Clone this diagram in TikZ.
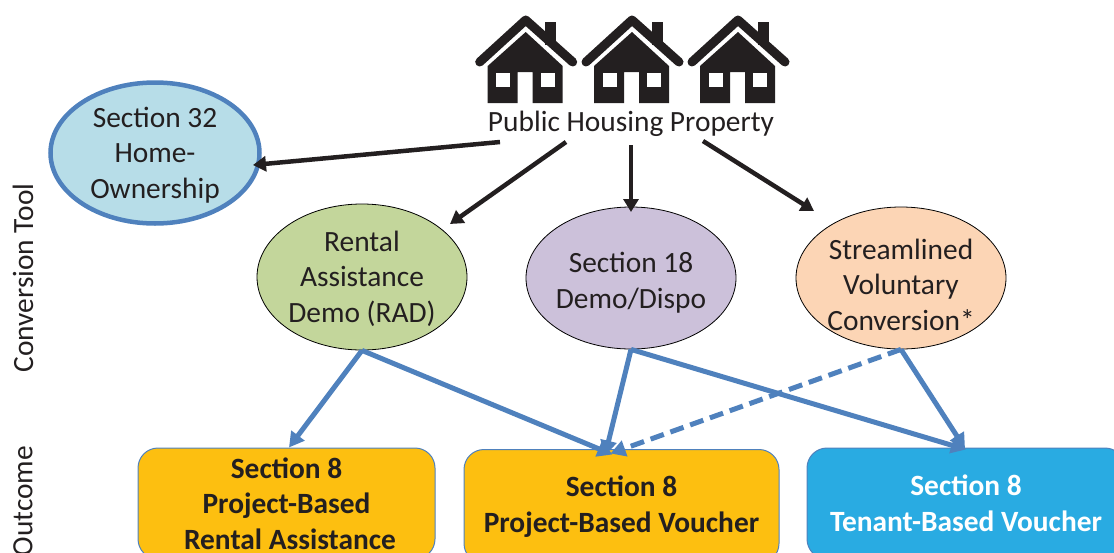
\documentclass[tikz,border=0pt]{standalone}
\usepackage{fontspec}
\setmainfont{Carlito}
\usetikzlibrary{arrows.meta,shapes.geometric}
\definecolor{ink}{HTML}{231F20}
\definecolor{arrowblue}{HTML}{4F81BD}
\definecolor{paleblue}{HTML}{B7DDE8}
\definecolor{palegreen}{HTML}{C3D69B}
\definecolor{palepurple}{HTML}{CCC1DA}
\definecolor{palepeach}{HTML}{FCD5B5}
\definecolor{amber}{HTML}{FDBF10}
\definecolor{skyblue}{HTML}{29ABE2}
\newcommand{\firstline}[1]{\rule{0pt}{#1pt}}
\tikzset{
  x=1pt,y=-1pt,
  tool/.style={ellipse,draw=black,line width=0.8pt,minimum width=210pt,inner sep=-12pt,align=center,text=ink,font=\fontsize{29.4}{35.5}\selectfont},
  outcome/.style={rectangle,rounded corners=20pt,draw=arrowblue,line width=1pt,inner sep=0pt,align=center,font=\fontsize{29.4}{35.5}\selectfont\bfseries},
  blackarrow/.style={draw=ink,line width=4.5pt,-{Triangle[length=13pt,width=15pt]}},
  bluearrow/.style={draw=arrowblue,line width=5pt,-{Triangle[length=15pt,width=16pt]}},
  axislabel/.style={rotate=90,text=ink,inner sep=0pt,font=\fontsize{29.4}{32}\selectfont},
  pics/house/.style={code={
    \fill[ink] (-38,51) -- (-38,88) -- (-8,88) -- (-8,57) -- (7,57) -- (7,88) -- (37,88) -- (37,51) -- (0,17) -- cycle;
    \fill[white] (-29.5,58) rectangle (-15.5,72);
    \fill[white] (15,58) rectangle (29,72);
    \fill[ink] (19.5,7) rectangle (30.5,30);
    \draw[ink,line width=9pt,line cap=round,line join=round] (-46,47) -- (0,5) -- (47,47);
  }}
}
\begin{document}
\begin{tikzpicture}
\useasboundingbox (0,0) rectangle (1114,552);
\pic at (525.7,15) {house};
\pic at (632,15) {house};
\pic at (738,15) {house};
\node[text=ink,inner sep=0pt,font=\fontsize{29.4}{32}\selectfont] (ph) at (631,124) {Public Housing Property};
\node[ellipse,draw=arrowblue,fill=paleblue,line width=4.5pt,minimum width=209pt,minimum height=141pt,inner sep=-12pt,align=center,text=ink,font=\fontsize{29.4}{35.5}\selectfont] (s32) at (155,153) {\firstline{24}Section 32\\Home-\\Ownership};
\node[tool,fill=palegreen,minimum height=146pt] (rad) at (362,277) {\firstline{24}Rental\\Assistance\\Demo (RAD)};
\node[tool,fill=palepurple,minimum height=142pt] (s18) at (631,278) {\firstline{30}Section 18\\Demo/Dispo};
\node[tool,fill=palepeach,minimum height=142pt] (svc) at (901,278) {\firstline{33.5}Streamlined\\Voluntary\\Conversion*};
\node[outcome,fill=amber,text=ink,minimum width=297pt,minimum height=111pt] (pbra) at (286.5,503.5) {Section 8\\Project-Based\\\hspace*{7pt}Rental Assistance};
\node[outcome,fill=amber,text=ink,minimum width=315pt,minimum height=114pt] (pbv) at (621.5,506.5) {Section 8\\Project-Based Voucher};
\node[outcome,fill=skyblue,text=white,minimum width=318pt,minimum height=111pt] (tbv) at (966,503.5) {Section 8\\Tenant-Based Voucher};
\node[axislabel] (convlabel) at (23,278) {Conversion Tool};
\node[axislabel] (outlabel) at (23,501) {Outcome};
\draw[blackarrow] ([shift={(-131,18)}]ph.center) -- ([shift={(98,12)}]s32.center);
\draw[blackarrow] ([shift={(-65,18)}]ph.center) -- ([shift={(88,-53)}]rad.center);
\draw[blackarrow] ([shift={(0,21)}]ph.center) -- ([shift={(0,-66)}]s18.center);
\draw[blackarrow] ([shift={(72,17)}]ph.center) -- ([shift={(-87,-67)}]svc.center);
\draw[bluearrow] (rad.south) -- ([shift={(2.5,-56)}]pbra.center);
\draw[bluearrow] (rad.south) -- ([shift={(-9,-52)}]pbv.center);
\draw[bluearrow] (s18.south) -- ([shift={(-16.5,-51)}]pbv.center);
\draw[bluearrow] (s18.south) -- ([shift={(0,-54)}]tbv.center);
\draw[bluearrow,dashed,dash pattern=on 14pt off 7pt] (svc.south) -- ([shift={(-11,-53)}]pbv.center);
\draw[bluearrow] (svc.south) -- ([shift={(-1,-55)}]tbv.center);
\end{tikzpicture}
\end{document}
